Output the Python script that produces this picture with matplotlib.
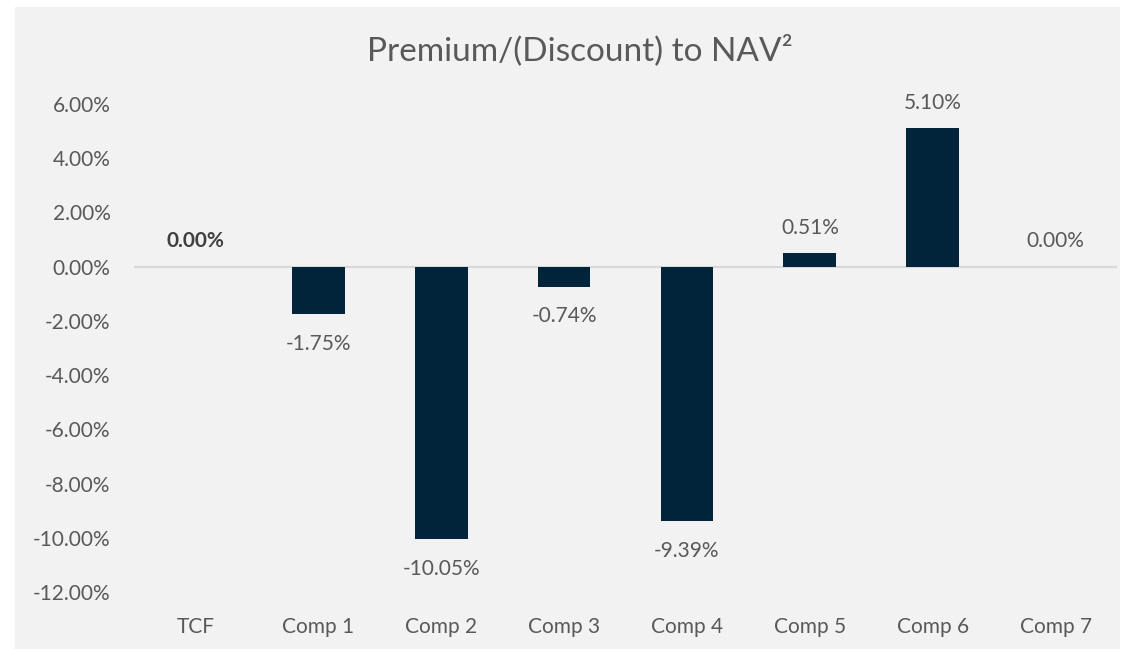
import matplotlib.pyplot as plt
from matplotlib.patches import Rectangle

plt.rcParams['font.family'] = ['Lato', 'DejaVu Sans']

categories = ["TCF", "Comp 1", "Comp 2", "Comp 3", "Comp 4", "Comp 5", "Comp 6", "Comp 7"]
values = [0.00, -1.75, -10.05, -0.74, -9.39, 0.51, 5.10, 0.00]
yticks = [6, 4, 2, 0, -2, -4, -6, -8, -10, -12]

grey_bg = "#f2f2f2"
bar_color = "#02243a"
text_color = "#595959"

fig = plt.figure(figsize=(11.22, 6.49), dpi=100)
fig.patch.set_facecolor("white")
# grey panel behind the chart
fig.patches.append(Rectangle((15 / 1122, 0), 1105 / 1122, 642 / 649,
                             transform=fig.transFigure, facecolor=grey_bg,
                             edgecolor="none", zorder=-5))

ax = fig.add_axes([134 / 1122, 57 / 649, 983 / 1122, 488 / 649])
ax.set_facecolor(grey_bg)

x = range(len(categories))
ax.bar(x, values, width=0.43, color=bar_color, linewidth=0, zorder=3)
ax.axhline(0, color="#d9d9d9", linewidth=1.6, zorder=2)

ax.set_xlim(-0.5, len(categories) - 0.5)
ax.set_ylim(-12, 6)
ax.set_yticks(yticks)
ax.set_yticklabels([f"{t:.2f}%" for t in yticks])
ax.set_xticks(list(x))
ax.set_xticklabels(categories)
ax.tick_params(axis="y", length=0, pad=17, labelsize=15, labelcolor=text_color)
ax.tick_params(axis="x", length=0, pad=18, labelsize=15, labelcolor=text_color)
for s in ax.spines.values():
    s.set_visible(False)

for i, v in enumerate(values):
    if v >= 0:
        off, va = 11, "bottom"
    else:
        off, va = -14, "top"
    bold = categories[i] == "TCF"
    ax.annotate(f"{v:.2f}%", (i, v), xytext=(0, off), textcoords="offset points",
                ha="center", va=va, fontsize=15,
                color="#404040" if bold else text_color,
                fontweight="bold" if bold else "normal")

fig.text(0.5165, 1 - 50 / 649, "Premium/(Discount) to NAV²", ha="center", va="center",
         fontsize=24, color=text_color)

fig.savefig("out.png", dpi=100, facecolor=fig.get_facecolor())
